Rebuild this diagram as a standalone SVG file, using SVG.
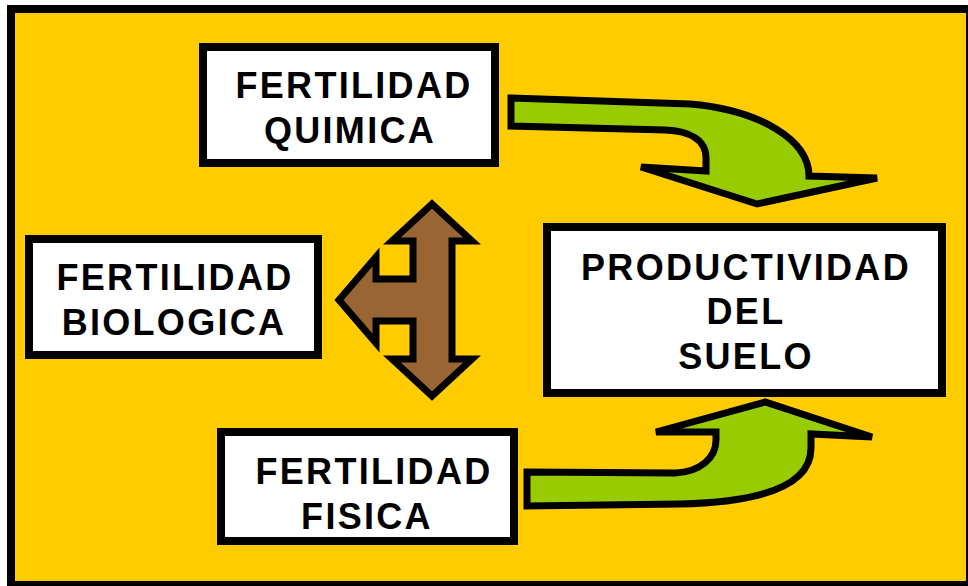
<svg xmlns="http://www.w3.org/2000/svg" width="968" height="586" viewBox="0 0 968 586">
<style>
.box{fill:#fff;stroke:#000;stroke-width:8}
.t{font-family:"Liberation Sans",Arial,sans-serif;font-weight:bold;font-size:36px;letter-spacing:2.3px;fill:#000;text-anchor:middle}
.green{fill:#99CC00;stroke:#000;stroke-width:7;stroke-linejoin:miter}
.brown{fill:#996633;stroke:#000;stroke-width:7;stroke-linejoin:miter}
</style>
<rect x="11" y="9" width="959" height="576" fill="#FFCC00" stroke="#000" stroke-width="8"/>
<g id="connectors">
<path class="green" d="M511,98 L690,104 C760,110 809,140 809,176 L877,178 L757,204 L641,167 L706,171 L706,158 C706,140 690,131 665,130 L511,126 Z"/>
<path class="green" d="M527,472 L675,473 C700,472 716,458 716,440 L716,432 L656,432 L765,402 L872,437 L811,434 L811,448 C811,482 770,502 680,504 L527,506 Z"/>
<path class="brown" d="M432,204 L472,241 L452,241 L452,359 L472,359 L432,396 L392,359 L413,359 L413,321 L376,321 L376,343 L339,300 L376,257 L376,279 L413,279 L413,241 L392,241 Z"/>
</g>
<g id="quimica">
<rect class="box" x="203" y="47" width="292" height="116"/>
<text class="t" x="354" y="98">FERTILIDAD</text>
<text class="t" x="350" y="143">QUIMICA</text>
</g>
<g id="biologica">
<rect class="box" x="29" y="239" width="289" height="116"/>
<text class="t" x="175" y="290">FERTILIDAD</text>
<text class="t" x="174" y="335">BIOLOGICA</text>
</g>
<g id="productividad">
<rect class="box" x="547" y="227" width="395" height="166"/>
<text class="t" x="746" y="280">PRODUCTIVIDAD</text>
<text class="t" x="746" y="324">DEL</text>
<text class="t" x="746" y="369">SUELO</text>
</g>
<g id="fisica">
<rect class="box" x="221" y="432" width="293" height="109"/>
<text class="t" x="374" y="484">FERTILIDAD</text>
<text class="t" x="367" y="529">FISICA</text>
</g>
</svg>
